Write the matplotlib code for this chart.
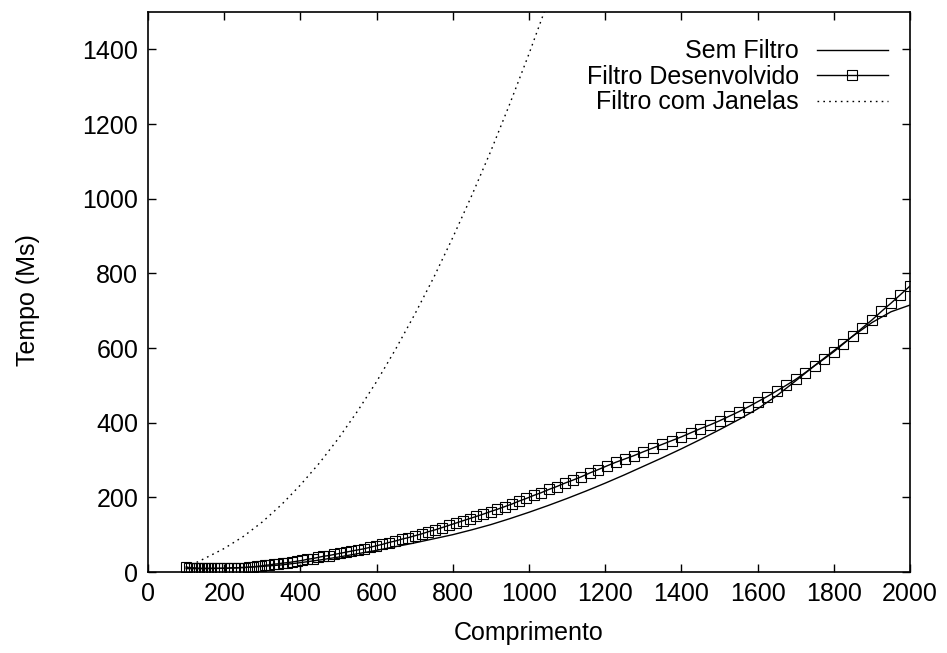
import matplotlib
matplotlib.use('Agg')
import matplotlib.pyplot as plt

# ---- data ----
sem_x = [100, 150, 200, 250, 300, 350, 400, 450, 500, 550, 600, 650, 700, 750,
         800, 850, 900, 950, 1000, 1050, 1100, 1150, 1200, 1250, 1300, 1350,
         1400, 1450, 1500, 1550, 1600, 1650, 1700, 1750, 1800, 1850, 1900,
         1950, 2000]
sem_y = [9, 9, 10, 12, 15, 19, 25, 32, 40, 49, 58, 68, 78, 89,
         100, 113, 127, 143, 160, 178, 197, 217, 238, 260, 283, 306,
         330, 355, 381, 408, 437, 472, 512, 553, 593, 632, 668,
         697, 715]

des_x = [100, 107, 114, 121, 128, 135, 142, 150, 158, 166, 174, 182, 190, 199,
         208, 217, 226, 235, 245, 255, 265, 275, 285, 296, 307, 318, 330, 342,
         354, 366, 379, 392, 405, 418, 432, 446, 460, 474, 489, 504, 519, 534,
         550, 566, 582, 598, 615, 632, 649, 666, 683, 700, 718, 736, 754, 772,
         790, 808, 826, 844, 862, 880, 899, 917, 936, 955, 974, 993, 1012, 1031,
         1052, 1073, 1094, 1115, 1137, 1159, 1181, 1204, 1228, 1252, 1276, 1300,
         1325, 1350, 1375, 1400, 1425, 1450, 1475, 1500, 1525, 1550, 1575, 1600,
         1625, 1650, 1675, 1700, 1725, 1750, 1775, 1800, 1825, 1850, 1875, 1900,
         1925, 1950, 1975, 2000]
des_y = [13, 12, 12, 11, 11, 10, 10, 10, 10, 10, 10, 10, 10, 10,
         10, 11, 11, 11, 12, 12, 13, 14, 15, 16, 18, 19, 21, 22,
         24, 25, 27, 29, 31, 34, 36, 39, 42, 44, 47, 50, 53, 56,
         59, 62, 66, 70, 74, 79, 83, 88, 92, 97, 102, 108, 113, 119,
         125, 131, 137, 143, 149, 155, 162, 168, 175, 182, 190, 197, 205, 212,
         221, 229, 238, 246, 255, 265, 274, 284, 294, 303, 312, 322,
         332, 342, 352, 362, 373, 384, 394, 405, 417, 429, 442, 456,
         470, 485, 500, 516, 534, 553, 571, 590, 611, 632, 654, 675,
         698, 720, 743, 766]

jan_x = [100, 150, 200, 250, 300, 350, 400, 450, 500, 550, 600, 650, 700, 750,
         800, 850, 900, 950, 1000, 1050]
jan_y = [12, 37, 63, 95, 134, 180, 233, 292, 358, 431, 510, 597, 690, 789,
         896, 1009, 1128, 1255, 1388, 1528]

labels = ['Sem Filtro', 'Filtro Desenvolvido', 'Filtro com Janelas']
x_ticks = list(range(0, 2001, 200))
y_ticks = list(range(0, 1401, 200))

plt.rcParams['font.family'] = ['Liberation Sans', 'DejaVu Sans']

fig = plt.figure(figsize=(9.47, 6.53), dpi=100)
ax = fig.add_axes([148 / 947, 81 / 653, 762 / 947, 560 / 653])

ax.plot(sem_x, sem_y, color='k', lw=1.0, label=labels[0])
ax.plot(des_x, des_y, color='k', lw=1.0, marker='s', ms=7, mfc='none',
        mec='k', mew=0.8, label=labels[1])
ax.plot(jan_x, jan_y, color='k', lw=1.0, ls=(0, (1.2, 3.0)), label=labels[2])

ax.set_xlim(0, 2000)
ax.set_ylim(0, 1500)
ax.set_xticks(x_ticks)
ax.set_yticks(y_ticks)
ax.tick_params(direction='in', length=6, width=1, top=True, right=True,
               labelsize=18, pad=7)
for s in ax.spines.values():
    s.set_linewidth(1.2)

ax.set_xlabel('Comprimento', fontsize=18)
ax.set_ylabel('Tempo (Ms)', fontsize=18)
ax.xaxis.label.set_va('center')
ax.yaxis.label.set_va('center')
ax.xaxis.set_label_coords(0.5, -0.109)
ax.yaxis.set_label_coords(-0.1575, 0.485)

ax.legend(loc='upper right', bbox_to_anchor=(0.971, 0.951), frameon=False,
          markerfirst=False, handlelength=2.84, handletextpad=0.72,
          labelspacing=0.06, borderpad=0, borderaxespad=0, fontsize=18,
          numpoints=1)

fig.savefig('out.png', dpi=100)
